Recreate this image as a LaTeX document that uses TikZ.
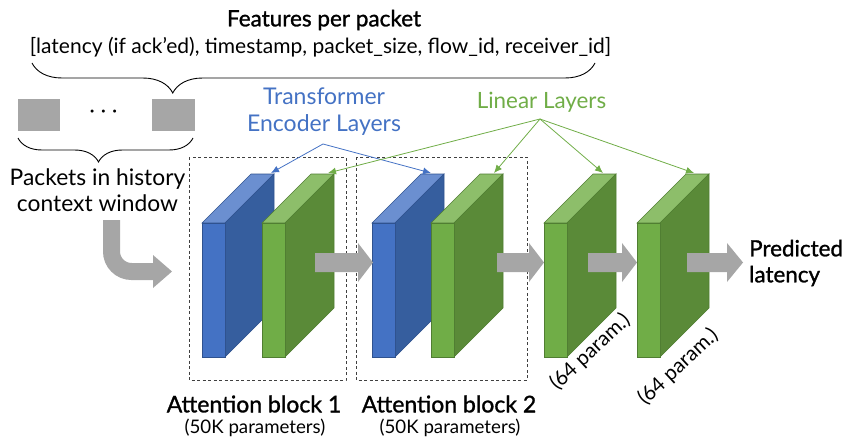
\documentclass[tikz,border=0pt]{standalone}
\usepackage{fontspec}
\setmainfont{Lato}
\newfontfamily\medfont{Lato}[FakeBold=1.2]
\usetikzlibrary{decorations.pathreplacing,arrows.meta}
\definecolor{bluef}{HTML}{4472C4}
\definecolor{blues}{HTML}{365E9E}
\definecolor{bluet}{HTML}{6B8FD0}
\definecolor{blueo}{HTML}{2F528F}
\definecolor{greenf}{HTML}{70AD47}
\definecolor{greens}{HTML}{5A8A38}
\definecolor{greent}{HTML}{8DBE6A}
\definecolor{greeno}{HTML}{507E32}
\definecolor{grayA}{HTML}{A6A6A6}
\definecolor{dashc}{HTML}{404040}
\newcommand{\layerblock}[5]{%
  \begin{scope}[shift={(#1,0)}]
    \filldraw[fill=#4,draw=#5,line width=0.6] (0,223) -- (23,223) -- (72,174) -- (49,174) -- cycle;
    \filldraw[fill=#3,draw=#5,line width=0.6] (23,223) -- (72,174) -- (72,308) -- (23,357) -- cycle;
    \filldraw[fill=#2,draw=#5,line width=0.6] (0,223) rectangle (23,357);
  \end{scope}}
\begin{document}
\begin{tikzpicture}[x=1pt,y=-1pt,
  heading/.style={font=\medfont\fontsize{23}{26}\selectfont, inner sep=0},
  plain/.style={font=\fontsize{21}{26}\selectfont, inner sep=0},
  small/.style={font=\fontsize{18.7}{20}\selectfont, inner sep=0},
  bracestyle/.style={draw=black, line width=0.9, decorate},
  pointer/.style={line width=0.8, -{Latex[length=8pt,width=7pt]}},
  dashbox/.style={draw=dashc, line width=0.9, dash pattern=on 3pt off 2.5pt}]
\useasboundingbox (0,0) rectangle (845,441);

% headings
\node[heading, font=\medfont\fontsize{22.5}{26}\selectfont] (feat) at (324,20) {Features per packet};
\node[plain] (list) at (320.5,47) {[latency (if ack'ed), timestamp, packet\_size, flow\_id, receiver\_id]};

% top brace
\coordinate (tb1) at (32,63);
\coordinate (tb2) at (595,63);
\draw[bracestyle, decoration={brace, mirror, amplitude=30pt, aspect=0.25}] (tb1) -- (tb2);

% packets
\fill[grayA] (18,99) rectangle (60,131);
\fill[grayA] (152,99) rectangle (195,131);
\node[plain, font=\fontsize{20}{20}\selectfont] (dots) at (103.5,114) {·\hspace{6pt}·\hspace{6pt}·};

% bottom brace
\coordinate (bb1) at (18,138);
\coordinate (bb2) at (193,138);
\draw[bracestyle, decoration={brace, mirror, amplitude=24pt, aspect=0.46}] (bb1) -- (bb2);

\node[plain, font=\fontsize{22.8}{26}\selectfont, align=center] (pk) at (97.5,190) {Packets in history\\context window};

% curved arrow
\draw[grayA, line width=17pt, rounded corners=20pt] (111.5,220) -- (111.5,271.5) -- (154,271.5);
\fill[grayA] (153,255) -- (172,271.5) -- (153,288) -- cycle;

% dashed boxes
\draw[dashbox] (189,157) rectangle (346,380);
\draw[dashbox] (356,157) rectangle (527,380);

% blocks
\layerblock{202}{bluef}{blues}{bluet}{blueo}
\layerblock{262}{greenf}{greens}{greent}{greeno}
\layerblock{372}{bluef}{blues}{bluet}{blueo}
\layerblock{431}{greenf}{greens}{greent}{greeno}
\layerblock{544}{greenf}{greens}{greent}{greeno}
\layerblock{637}{greenf}{greens}{greent}{greeno}

% gray block arrows
\fill[grayA] (315,253) -- (358,253) -- (358,243) -- (373,262.5) -- (358,282) -- (358,272) -- (315,272) -- cycle;
\fill[grayA] (497,253) -- (529,253) -- (529,243) -- (544,262.5) -- (529,282) -- (529,272) -- (497,272) -- cycle;
\fill[grayA] (588,253) -- (622,253) -- (622,243) -- (637,262.5) -- (622,282) -- (622,272) -- (588,272) -- cycle;
\fill[grayA] (687,253) -- (727,253) -- (727,243) -- (743,262.5) -- (727,282) -- (727,272) -- (687,272) -- cycle;

% labels
\node[plain, text=bluef, font=\fontsize{23}{27}\selectfont, align=center] (tf) at (324,111.5) {Transformer\\Encoder Layers};
\node[plain, text=greenf, font=\fontsize{22.4}{27}\selectfont] (lin) at (541.5,102) {Linear Layers};

\coordinate (tfo) at (323,144);
\coordinate (lino) at (540,119);
\coordinate (tb1t) at (271,173);
\coordinate (tb2t) at (431,173);
\coordinate (g1t) at (328,173);
\coordinate (g2t) at (494,173);
\coordinate (g3t) at (603,173);
\coordinate (g4t) at (694,173);
\draw[pointer, bluef] (tfo) -- (tb1t);
\draw[pointer, bluef] (tfo) -- (tb2t);
\draw[pointer, greenf] (lino) -- (g1t);
\draw[pointer, greenf] (lino) -- (g2t);
\draw[pointer, greenf] (lino) -- (g3t);
\draw[pointer, greenf] (lino) -- (g4t);

\node[heading] (ab1) at (254,404) {Attention block 1};
\node[small] (ap1) at (255,428) {(50K parameters)};
\node[heading] (ab2) at (449,404) {Attention block 2};
\node[small] (ap2) at (450,428) {(50K parameters)};

\node[plain, font=\fontsize{20.5}{24}\selectfont, rotate=43] (p1) at (590,352) {(64 param.)};
\node[plain, font=\fontsize{20.5}{24}\selectfont, rotate=43] (p2) at (678,367) {(64 param.)};

\node[heading, font=\medfont\fontsize{22.4}{26}\selectfont, anchor=west, align=left] (pred) at (749,263) {Predicted\\latency};
\end{tikzpicture}
\end{document}
